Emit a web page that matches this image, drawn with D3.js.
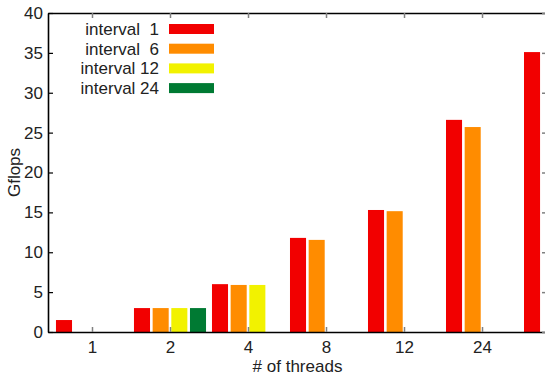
<!DOCTYPE html>
<html>
<head>
<meta charset="utf-8">
<script src="https://cdn.jsdelivr.net/npm/d3@7/dist/d3.min.js"></script>
<style>
  html, body { margin: 0; padding: 0; background: #fff; }
  svg { display: block; }
  text { font-family: "Liberation Sans", Arial, sans-serif; font-size: 17px; fill: #222; }
  .legend text { white-space: pre; }
</style>
</head>
<body>
<svg id="chart" width="545" height="379"></svg>
<script>
// Thread counts on the x axis (last group runs past the right edge)
const threads = ["1", "2", "4", "8", "12", "24", "48"];

// Series names, as shown in the key
const seriesNames = ["interval  1", "interval  6", "interval 12", "interval 24"];

// Gflops per thread count for each series (null = not measured)
const interval1  = [1.5, 3.0, 6.0, 11.8, 15.3, 26.6, 35.1];
const interval6  = [null, 3.0, 5.9, 11.55, 15.15, 25.7, null];
const interval12 = [null, 3.0, 5.9, null, null, null, null];
const interval24 = [null, 3.0, null, null, null, null, null];

const yTicks = [0, 5, 10, 15, 20, 25, 30, 35, 40];

const seriesValues = [interval1, interval6, interval12, interval24];
const colors = ["#f20000", "#ff8c00", "#f2f200", "#007a33"];

const W = 545, H = 379;
const plotL = 48, plotR = 547, plotT = 13, plotB = 332;

const svg = d3.select("#chart");

// Group index -> pixel position; the plot frame is wider than the window
const x = d3.scaleLinear().domain([-0.564, 5.833]).range([plotL, plotR]);
const y = d3.scaleLinear().domain([0, 40]).range([plotB, plotT]);

const step = x(1) - x(0);
const inner = d3.scaleBand()
  .domain(d3.range(seriesNames.length))
  .range([-0.4786 * step, 0.4786 * step])
  .paddingInner(0.14)
  .paddingOuter(0.07);

// Bars
const bars = [];
seriesValues.forEach((vals, s) => {
  vals.forEach((v, g) => {
    if (v != null) bars.push({ s, g, v });
  });
});

svg.append("g").selectAll("rect")
  .data(bars)
  .join("rect")
  .attr("x", d => x(d.g) + inner(d.s))
  .attr("width", inner.bandwidth())
  .attr("y", d => y(d.v))
  .attr("height", d => y(0) - y(d.v))
  .attr("fill", d => colors[d.s]);

// Group positions that fall inside the window
const visibleGroups = d3.range(threads.length).filter(i => x(i) < W);

// Bottom axis
const xAxis = d3.axisBottom(x)
  .tickValues(visibleGroups)
  .tickFormat(i => threads[i])
  .tickSizeInner(-5)
  .tickSizeOuter(0)
  .tickPadding(9);
const gx = svg.append("g").attr("transform", `translate(0,${plotB})`).call(xAxis);
gx.select(".domain").attr("stroke", "#000").attr("stroke-width", 1.6);
gx.selectAll(".tick line").attr("stroke", "#808080").attr("stroke-width", 1.5);
gx.selectAll(".tick text").style("font-size", "17px").attr("fill", "#222");

// Top axis (mirror ticks)
const xTop = d3.axisTop(x).tickValues(visibleGroups).tickFormat("").tickSizeInner(-5).tickSizeOuter(0);
const gt = svg.append("g").attr("transform", `translate(0,${plotT})`).call(xTop);
gt.select(".domain").attr("stroke", "#000").attr("stroke-width", 1.6);
gt.selectAll(".tick line").attr("stroke", "#808080").attr("stroke-width", 1.5);

// Left axis
const yAxis = d3.axisLeft(y).tickValues(yTicks).tickSizeInner(-5).tickSizeOuter(0).tickPadding(5);
const gy = svg.append("g").attr("transform", `translate(${plotL},0)`).call(yAxis);
gy.select(".domain").attr("stroke", "#000").attr("stroke-width", 1.6);
gy.selectAll(".tick line").attr("stroke", "#000").attr("stroke-width", 1.2);
gy.selectAll(".tick text").style("font-size", "17px").attr("fill", "#222");

// Right axis (mirror ticks)
const yRight = d3.axisRight(y).tickValues(yTicks).tickFormat("").tickSizeInner(-5).tickSizeOuter(0);
const gr = svg.append("g").attr("transform", `translate(${plotR},0)`).call(yRight);
gr.select(".domain").attr("stroke", "#000").attr("stroke-width", 1.6);
gr.selectAll(".tick line").attr("stroke", "#808080").attr("stroke-width", 1.5);

// Axis titles
svg.append("text")
  .attr("transform", `translate(20,${(plotT + plotB) / 2}) rotate(-90)`)
  .attr("text-anchor", "middle")
  .text("Gflops");

svg.append("text")
  .attr("x", (plotL + plotR) / 2)
  .attr("y", 372)
  .attr("text-anchor", "middle")
  .text("# of threads");

// Key
const legend = svg.append("g").attr("class", "legend");
const rowH = 19.7;
seriesNames.forEach((name, i) => {
  legend.append("text")
    .attr("x", 159)
    .attr("y", 35 + i * rowH)
    .attr("text-anchor", "end")
    .text(name);
  legend.append("rect")
    .attr("x", 169)
    .attr("y", 24 + i * rowH)
    .attr("width", 45)
    .attr("height", 10)
    .attr("fill", colors[i]);
});
</script>
</body>
</html>
